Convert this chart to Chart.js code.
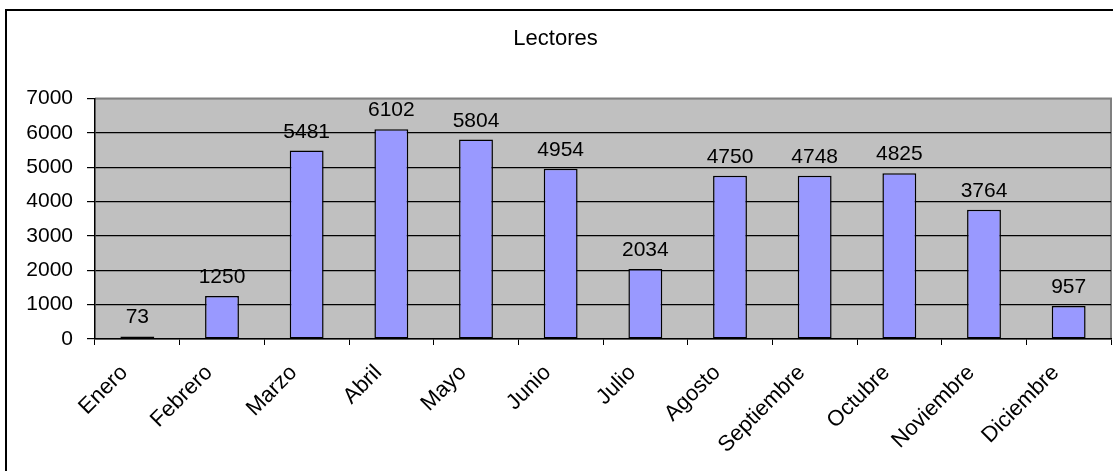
<!DOCTYPE html>
<html>
<head>
<meta charset="utf-8">
<script src="https://cdn.jsdelivr.net/npm/chart.js@4.4.1/dist/chart.umd.min.js"></script>
<style>
  body { margin: 0; background: #fff; }
  canvas { display: block; }
</style>
</head>
<body>
<canvas id="bar-chart" width="1113" height="471"></canvas>
<script>
// data
var meses = ['Enero', 'Febrero', 'Marzo', 'Abril', 'Mayo', 'Junio', 'Julio',
  'Agosto', 'Septiembre', 'Octubre', 'Noviembre', 'Diciembre'];
var lectores = [73, 1250, 5481, 6102, 5804, 4954, 2034, 4750, 4748, 4825, 3764, 957];
var yTicks = [0, 1000, 2000, 3000, 4000, 5000, 6000, 7000];

var fuente = { family: 'Liberation Sans, Arial, sans-serif', size: 21 };

// gray plot area + outer frame + value labels
var excelLook = {
  id: 'excelLook',
  beforeDraw: function(chart) {
    var ctx = chart.ctx, a = chart.chartArea;
    ctx.save();
    ctx.fillStyle = '#c0c0c0';
    ctx.fillRect(a.left, a.top, a.right - a.left, a.bottom - a.top);
    ctx.strokeStyle = '#808080';
    ctx.lineWidth = 2;
    ctx.beginPath();
    ctx.moveTo(a.left, a.top);
    ctx.lineTo(a.right, a.top);
    ctx.lineTo(a.right, a.bottom);
    ctx.stroke();
    ctx.restore();
  },
  afterDraw: function(chart) {
    var ctx = chart.ctx;
    ctx.save();
    ctx.font = fuente.size + 'px ' + fuente.family;
    ctx.fillStyle = '#000';
    ctx.textAlign = 'center';
    ctx.textBaseline = 'alphabetic';
    chart.getDatasetMeta(0).data.forEach(function(bar, i) {
      ctx.fillText(String(lectores[i]), bar.x, bar.y - 13);
    });
    ctx.strokeStyle = '#000';
    ctx.lineWidth = 2;
    ctx.strokeRect(6, 10, 2000, 2000);
    ctx.restore();
  }
};

new Chart(document.getElementById('bar-chart'), {
  type: 'bar',
  data: {
    labels: meses,
    datasets: [{
      label: 'Lectores',
      data: lectores,
      backgroundColor: '#9999ff',
      borderColor: '#000',
      borderWidth: 1.5,
      borderSkipped: false,
      categoryPercentage: 1,
      barPercentage: 0.4
    }]
  },
  options: {
    responsive: false,
    animation: false,
    layout: { padding: { top: 0, right: 2, left: 0, bottom: 0 } },
    plugins: {
      legend: { display: false },
      tooltip: { enabled: false },
      title: {
        display: true,
        text: 'Lectores',
        color: '#000',
        font: { family: fuente.family, size: 22, weight: 'normal' },
        padding: { top: 26, bottom: 46 }
      }
    },
    scales: {
      x: {
        afterFit: function(s) { s.height = 132; },
        grid: { offset: true, drawOnChartArea: false, color: '#000', tickLength: 6 },
        border: { display: true, color: '#000', width: 1.5 },
        ticks: {
          color: '#000',
          font: { family: fuente.family, size: 22 },
          autoSkip: false,
          maxRotation: 45, minRotation: 45,
          padding: 15,
          labelOffset: -13
        }
      },
      y: {
        min: 0,
        max: 7000,
        afterFit: function(s) { s.width = 95; },
        afterBuildTicks: function(s) {
          s.ticks = yTicks.map(function(v) { return { value: v }; });
        },
        grid: {
          color: function(c) { return c.tick && c.tick.value === 7000 ? '#808080' : '#000'; },
          tickColor: '#000',
          tickLength: 8,
          lineWidth: 1.2
        },
        border: { display: true, color: '#000', width: 1.5 },
        ticks: {
          color: '#000', font: fuente, padding: 14,
          callback: function(v) { return String(v); }
        }
      }
    }
  },
  plugins: [excelLook]
});
</script>
</body>
</html>
